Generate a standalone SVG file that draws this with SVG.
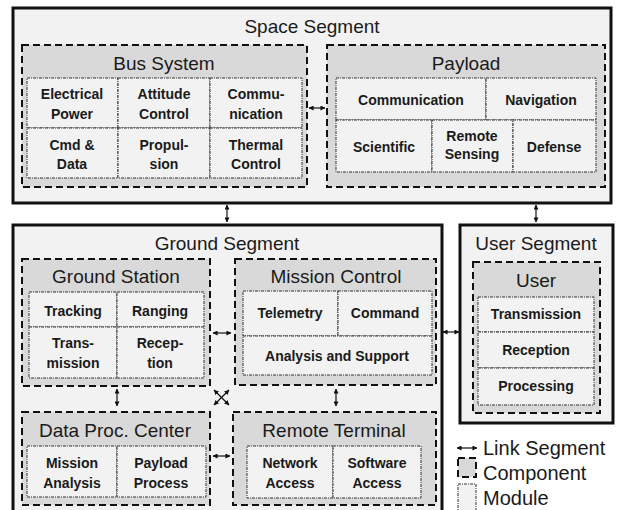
<svg xmlns="http://www.w3.org/2000/svg" width="619" height="510" viewBox="0 0 619 510">
<defs>
<marker id="ah" viewBox="0 0 6 6" refX="5.5" refY="3" markerWidth="5" markerHeight="5" orient="auto-start-reverse" markerUnits="userSpaceOnUse">
<path d="M0,0 L6,3 L0,6 z" fill="#111"/>
</marker>
<style>
.seg{fill:#f2f2f2;stroke:#111;stroke-width:3}
.comp{fill:#d9d9d9;stroke:#111;stroke-width:2;stroke-dasharray:7 4}
.mod{fill:#f2f2f2;stroke:#333;stroke-width:1;stroke-dasharray:3 1 1 1}
.t1{font-family:"Liberation Sans",Arial,sans-serif;font-size:19px;fill:#1a1a1a;text-anchor:middle}
.t2{font-family:"Liberation Sans",Arial,sans-serif;font-size:14px;font-weight:bold;fill:#1a1a1a;text-anchor:middle}
.lg{font-family:"Liberation Sans",Arial,sans-serif;font-size:20px;fill:#1a1a1a}
.ar{stroke:#111;stroke-width:1.2;fill:none;marker-start:url(#ah);marker-end:url(#ah)}
</style>
</defs>

<g id="space-segment">
<rect class="seg" x="13" y="8" width="598" height="195"/>
<text class="t1" x="312" y="33">Space Segment</text>
</g>

<g id="bus-system">
<rect class="comp" x="22" y="45" width="285" height="142"/>
<text class="t1" x="164" y="70">Bus System</text>
<rect class="mod" x="27" y="78" width="91" height="50"/>
<rect class="mod" x="118" y="78" width="92" height="50"/>
<rect class="mod" x="210" y="78" width="92" height="50"/>
<rect class="mod" x="27" y="128" width="91" height="50"/>
<rect class="mod" x="118" y="128" width="92" height="50"/>
<rect class="mod" x="210" y="128" width="92" height="50"/>
<text class="t2" x="72" y="99">Electrical</text><text class="t2" x="72" y="119">Power</text>
<text class="t2" x="164" y="99">Attitude</text><text class="t2" x="164" y="119">Control</text>
<text class="t2" x="256" y="99">Commu-</text><text class="t2" x="256" y="119">nication</text>
<text class="t2" x="72" y="150">Cmd &amp;</text><text class="t2" x="72" y="169">Data</text>
<text class="t2" x="164" y="150">Propul-</text><text class="t2" x="164" y="169">sion</text>
<text class="t2" x="256" y="150">Thermal</text><text class="t2" x="256" y="169">Control</text>
</g>

<g id="payload">
<rect class="comp" x="327" y="45" width="278" height="142"/>
<text class="t1" x="466" y="70">Payload</text>
<rect class="mod" x="336" y="78" width="150" height="42"/>
<rect class="mod" x="486" y="78" width="110" height="42"/>
<rect class="mod" x="336" y="120" width="96" height="52"/>
<rect class="mod" x="432" y="120" width="81" height="52"/>
<rect class="mod" x="513" y="120" width="83" height="52"/>
<text class="t2" x="411" y="105">Communication</text>
<text class="t2" x="541" y="105">Navigation</text>
<text class="t2" x="384" y="152">Scientific</text>
<text class="t2" x="472" y="141">Remote</text><text class="t2" x="472" y="159">Sensing</text>
<text class="t2" x="554" y="152">Defense</text>
</g>

<g id="ground-segment">
<rect class="seg" x="13" y="225" width="429" height="295"/>
<text class="t1" x="227" y="250">Ground Segment</text>
</g>

<g id="ground-station">
<rect class="comp" x="22" y="259" width="188" height="127"/>
<text class="t1" x="116" y="283">Ground Station</text>
<rect class="mod" x="29" y="292" width="88" height="35"/>
<rect class="mod" x="117" y="292" width="87" height="35"/>
<rect class="mod" x="29" y="327" width="88" height="51"/>
<rect class="mod" x="117" y="327" width="87" height="51"/>
<text class="t2" x="73" y="316">Tracking</text>
<text class="t2" x="160" y="316">Ranging</text>
<text class="t2" x="73" y="348">Trans-</text><text class="t2" x="73" y="368">mission</text>
<text class="t2" x="160" y="348">Recep-</text><text class="t2" x="160" y="368">tion</text>
</g>

<g id="mission-control">
<rect class="comp" x="235" y="259" width="201" height="126"/>
<text class="t1" x="336" y="283">Mission Control</text>
<rect class="mod" x="243" y="291" width="95" height="45"/>
<rect class="mod" x="338" y="291" width="94" height="45"/>
<rect class="mod" x="243" y="336" width="189" height="39"/>
<text class="t2" x="290" y="318">Telemetry</text>
<text class="t2" x="385" y="318">Command</text>
<text class="t2" x="337" y="361">Analysis and Support</text>
</g>

<g id="user-segment">
<rect class="seg" x="460" y="225" width="153" height="198"/>
<text class="t1" x="536" y="250">User Segment</text>
</g>

<g id="user">
<rect class="comp" x="473" y="262" width="127" height="151"/>
<text class="t1" x="536" y="287">User</text>
<rect class="mod" x="478" y="297" width="116" height="35"/>
<rect class="mod" x="478" y="332" width="116" height="36"/>
<rect class="mod" x="478" y="368" width="116" height="37"/>
<text class="t2" x="536" y="319">Transmission</text>
<text class="t2" x="536" y="355">Reception</text>
<text class="t2" x="536" y="391">Processing</text>
</g>

<g id="data-proc-center">
<rect class="comp" x="22" y="412" width="188" height="93"/>
<text class="t1" x="115" y="437">Data Proc. Center</text>
<rect class="mod" x="27" y="446" width="90" height="51"/>
<rect class="mod" x="117" y="446" width="89" height="51"/>
<text class="t2" x="72" y="468">Mission</text><text class="t2" x="72" y="488">Analysis</text>
<text class="t2" x="161" y="468">Payload</text><text class="t2" x="161" y="488">Process</text>
</g>

<g id="remote-terminal">
<rect class="comp" x="233" y="412" width="203" height="93"/>
<text class="t1" x="334" y="437">Remote Terminal</text>
<rect class="mod" x="247" y="446" width="86" height="52"/>
<rect class="mod" x="333" y="446" width="88" height="52"/>
<text class="t2" x="290" y="468">Network</text><text class="t2" x="290" y="488">Access</text>
<text class="t2" x="377" y="468">Software</text><text class="t2" x="377" y="488">Access</text>
</g>

<g id="connectors">
<line class="ar" x1="309" y1="108" x2="325" y2="108"/>
<line class="ar" x1="227" y1="205" x2="227" y2="222"/>
<line class="ar" x1="536" y1="205" x2="536" y2="222"/>
<line class="ar" x1="213" y1="333" x2="231" y2="333"/>
<line class="ar" x1="443" y1="332" x2="459" y2="332"/>
<line class="ar" x1="117" y1="389" x2="117" y2="406"/>
<line class="ar" x1="336" y1="389" x2="336" y2="406"/>
<line class="ar" x1="214" y1="390" x2="229" y2="405"/>
<line class="ar" x1="229" y1="390" x2="214" y2="405"/>
<line class="ar" x1="213" y1="456" x2="230" y2="456"/>
</g>

<g id="legend">
<line class="ar" x1="457" y1="448" x2="477" y2="448"/>
<text class="lg" x="483" y="455">Link Segment</text>
<rect class="comp" x="458" y="458" width="18" height="19"/>
<text class="lg" x="483" y="480">Component</text>
<rect class="mod" x="458" y="484" width="18" height="30"/>
<text class="lg" x="483" y="505">Module</text>
</g>
</svg>
